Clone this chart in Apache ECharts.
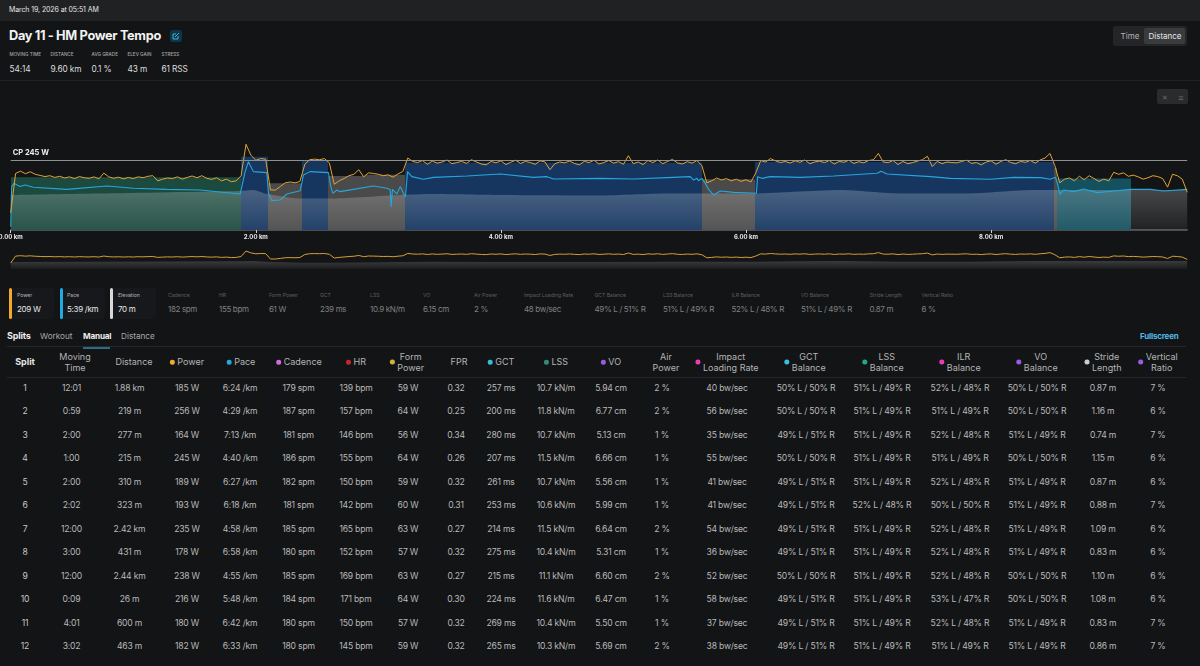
<!DOCTYPE html>
<html><head><meta charset="utf-8"><title>Day 11 - HM Power Tempo</title>
<script src="https://cdn.jsdelivr.net/npm/echarts@6/dist/echarts.min.js"></script>
<style>
html,body{margin:0;padding:0;background:#131416;width:1200px;height:666px;overflow:hidden;font-family:Inter,"Noto Sans",sans-serif;color:#c9c9c9}
#chart{position:absolute;left:0;top:0;width:1200px;height:280px}
.a{position:absolute;white-space:nowrap;line-height:1}
.c{transform:translate(-50%,-50%)}
.m{transform:translateY(-50%)}
.hd{position:absolute;display:flex;align-items:center;gap:3px;transform:translate(-50%,-50%);font-size:9px;line-height:10.5px;color:#b4b4b4;text-align:center;white-space:nowrap}
.dot{width:4.5px;height:4.5px;border-radius:50%;flex:none}
</style></head><body>
<div id="page"></div>
<div id="chart"></div>
<script>
// ---- chart data ----
const powerStepKm = 0.04;
const powerWatts = [
 60,198,206,197,204,195,191,187,190,184,
 188,182,186,180,187,183,181,186,179,199,
 186,181,185,179,184,180,186,183,188,190,
 172,178,182,180,186,178,184,189,183,190,
 181,177,183,172,178,169,172,190,300,262,
 244,250,248,140,140,152,165,168,165,170,
 230,246,248,246,250,235,160,172,180,190,
 195,211,186,200,198,195,190,193,185,196,
 205,252,240,236,243,230,241,234,238,245,
 232,236,240,233,246,238,231,228,240,235,
 242,229,237,244,233,240,236,230,242,238,
 211,232,238,235,241,233,228,240,236,244,
 231,236,243,234,239,230,260,232,238,229,
 243,236,245,232,240,247,235,231,239,234,
 243,225,165,172,182,175,180,172,178,170,
 176,168,200,243,238,250,242,236,240,234,
 242,237,245,232,238,241,236,243,231,240,
 237,244,233,239,235,243,246,268,238,236,
 243,229,240,232,236,241,246,258,222,240,
 232,238,236,235,240,244,233,236,228,238,
 242,230,240,246,236,232,240,237,243,234,
 245,252,268,225,165,178,182,172,188,176,
 190,180,170,178,172,202,195,200,188,192,
 186,178,183,190,187,180,150,195,190,178,132];
const paceKm = [0,.008,.027,.076,.117,.185,.457,.784,1,1.273,1.545,1.872,1.886,1.913,1.94,1.98,2.09,2.103,2.13,2.198,2.253,2.362,2.389,2.443,2.593,2.612,2.629,2.661,2.688,2.797,2.96,3.069,3.096,3.104,3.115,3.151,3.178,3.205,3.221,3.238,3.273,3.368,3.45,3.722,3.994,4.266,4.376,4.43,4.81,5.083,5.355,5.545,5.572,5.6,5.613,5.64,5.668,5.695,5.736,5.79,5.899,6.085,6.095,6.13,6.198,6.443,6.715,7.07,7.102,7.151,7.505,7.668,7.994,8.185,8.403,8.484,8.525,8.544,8.56,8.593,8.675,8.756,8.865,9.001,9.137,9.3,9.409,9.6];
const paceSecPerKm = [676,390,367,390,378,395,410,386,402,410,414,443,390,283,212,283,290,438,490,486,443,419,307,283,290,390,438,414,426,410,386,402,410,533,410,443,390,438,462,283,319,338,324,314,300,324,319,336,331,336,326,319,343,331,348,331,367,410,450,421,431,438,319,331,319,324,314,295,281,300,319,331,338,324,326,338,324,378,443,414,426,407,433,421,410,410,421,410];
const elevKm = [0,.729,1.872,1.98,2.09,2.362,2.634,3.178,3.45,3.994,4.81,5.355,6.07,6.443,6.77,7.26,7.8,8.35,9.6];
const elevMeters = [70,73,78,80,72,63,63,70,72,70,69,73,73,77,80,73,73,80,80];
const splitEndKm = [1.88,2.10,2.376,2.591,2.90,3.22,5.64,6.07,8.51,8.54,9.14,9.60];
const splitPower = [185,256,164,245,189,193,235,178,238,216,180,182];
const splitZone = ['green','blue','gray','blue','gray','gray','blue','gray','blue','gray','teal',null];
const zoneColors = {green:'#1c4a3e',blue:'#163660',gray:'#4a4a4b',teal:'#15505f'};
const cpWatts = 245;

// ---- page text ----
const summaryStats = [['MOVING TIME','54:14',9.5],['DISTANCE','9.60 km',50.5],['AVG GRADE','0.1 %',91.5],['ELEV GAIN','43 m',127.5],['STRESS','61 RSS',161.5]];
const activeCards = [['Power','209 W','#f2a92c',17,9,45],['Pace','5:39 /km','#22a9e0',67,60,45],['Elevation','70 m','#d8d8d8',118,110,46]];
const dimCards = [['Cadence','182 spm',168],['HR','155 bpm',219],['Form Power','61 W',269],['GCT','239 ms',320],['LSS','10.9 kN/m',370],['VO','6.15 cm',423],['Air Power','2 %',474],['Impact Loading Rate','48 bw/sec',524],['GCT Balance','49% L / 51% R',594.5],['LSS Balance','51% L / 49% R',663],['ILR Balance','52% L / 48% R',731.5],['VO Balance','51% L / 49% R',801],['Stride Length','0.87 m',869.5],['Vertical Ratio','6 %',921.5]];
const headerCols = [['Split',25,null],['Moving<br>Time',75,null],['Distance',134,null],['Power',187,'#f2a92c'],['Pace',241,'#22a9e0'],['Cadence',299,'#d96bdd'],['HR',356,'#c5262f'],['Form<br>Power',407,'#d4b23a'],['FPR',459,null],['GCT',501,'#35bfd8'],['LSS',556,'#2d8c7a'],['VO',611,'#9b5be0'],['Air<br>Power',666,null],['Impact<br>Loading Rate',727,'#e83db0'],['GCT<br>Balance',805,'#35bfd8'],['LSS<br>Balance',883,'#1fa88a'],['ILR<br>Balance',960,'#e83db0'],['VO<br>Balance',1037,'#9b5be0'],['Stride<br>Length',1103,'#cccccc'],['Vertical<br>Ratio',1158,'#9b5be0']];
const rowCenters = [25,71.5,129.5,187,240,298.5,356,408,456,501,556,611,662,727,806,882,960,1037,1103,1158];
const tableRows = [
 ['1','12:01','1.88 km','185 W','6:24 /km','179 spm','139 bpm','59 W','0.32','257 ms','10.7 kN/m','5.94 cm','2 %','40 bw/sec','50% L / 50% R','51% L / 49% R','52% L / 48% R','50% L / 50% R','0.87 m','7 %'],
 ['2','0:59','219 m','256 W','4:29 /km','187 spm','157 bpm','64 W','0.25','200 ms','11.8 kN/m','6.77 cm','2 %','56 bw/sec','50% L / 50% R','51% L / 49% R','51% L / 49% R','50% L / 50% R','1.16 m','6 %'],
 ['3','2:00','277 m','164 W','7:13 /km','181 spm','146 bpm','56 W','0.34','280 ms','10.7 kN/m','5.13 cm','1 %','35 bw/sec','49% L / 51% R','51% L / 49% R','52% L / 48% R','51% L / 49% R','0.74 m','7 %'],
 ['4','1:00','215 m','245 W','4:40 /km','186 spm','155 bpm','64 W','0.26','207 ms','11.5 kN/m','6.66 cm','1 %','55 bw/sec','50% L / 50% R','51% L / 49% R','51% L / 49% R','50% L / 50% R','1.15 m','6 %'],
 ['5','2:00','310 m','189 W','6:27 /km','182 spm','150 bpm','59 W','0.32','261 ms','10.7 kN/m','5.56 cm','1 %','41 bw/sec','49% L / 51% R','51% L / 49% R','52% L / 48% R','51% L / 49% R','0.87 m','6 %'],
 ['6','2:02','323 m','193 W','6:18 /km','181 spm','142 bpm','60 W','0.31','253 ms','10.6 kN/m','5.99 cm','1 %','41 bw/sec','49% L / 51% R','52% L / 48% R','50% L / 50% R','51% L / 49% R','0.88 m','7 %'],
 ['7','12:00','2.42 km','235 W','4:58 /km','185 spm','165 bpm','63 W','0.27','214 ms','11.5 kN/m','6.64 cm','2 %','54 bw/sec','49% L / 51% R','51% L / 49% R','52% L / 48% R','51% L / 49% R','1.09 m','6 %'],
 ['8','3:00','431 m','178 W','6:58 /km','180 spm','152 bpm','57 W','0.32','275 ms','10.4 kN/m','5.31 cm','1 %','36 bw/sec','49% L / 51% R','51% L / 49% R','52% L / 48% R','51% L / 49% R','0.83 m','6 %'],
 ['9','12:00','2.44 km','238 W','4:55 /km','185 spm','169 bpm','63 W','0.27','215 ms','11.1 kN/m','6.60 cm','2 %','52 bw/sec','50% L / 50% R','51% L / 49% R','52% L / 48% R','50% L / 50% R','1.10 m','6 %'],
 ['10','0:09','26 m','216 W','5:48 /km','184 spm','171 bpm','64 W','0.30','224 ms','11.6 kN/m','6.47 cm','1 %','58 bw/sec','49% L / 51% R','51% L / 49% R','53% L / 47% R','50% L / 50% R','1.08 m','6 %'],
 ['11','4:01','600 m','180 W','6:42 /km','180 spm','150 bpm','57 W','0.32','269 ms','10.4 kN/m','5.50 cm','1 %','37 bw/sec','49% L / 51% R','51% L / 49% R','52% L / 48% R','51% L / 49% R','0.83 m','7 %'],
 ['12','3:02','463 m','182 W','6:33 /km','180 spm','145 bpm','59 W','0.32','265 ms','10.3 kN/m','5.69 cm','2 %','38 bw/sec','49% L / 51% R','51% L / 49% R','51% L / 49% R','51% L / 49% R','0.86 m','7 %']];

// ---- DOM page ----
let h = '';
const box = (x,y,w,ht,bg,extra='') => `<div style="position:absolute;left:${x}px;top:${y}px;width:${w}px;height:${ht}px;background:${bg};${extra}"></div>`;
const txt = (x,y,s,size,col,extra='',cls='a m') => `<div class="${cls}" style="left:${x}px;top:${y}px;font-size:${size}px;color:${col};${extra}">${s}</div>`;
h += box(0,0,1200,21,'#1f2123');
h += txt(9,8.5,'March 19, 2026 at 05:51 AM',7,'#e6e6e6','letter-spacing:-.1px');
h += txt(9,35.5,'Day 11 - HM Power Tempo',12.8,'#f2f2f2','font-weight:700;letter-spacing:-.35px');
h += box(170,30,12,12,'#0f3547','border-radius:2px');
h += `<svg style="position:absolute;left:172px;top:32px" width="8" height="8" viewBox="0 0 8 8"><path d="M1 2h3M1 2v5h5V4M3 5l4-4" stroke="#3fb2e0" fill="none" stroke-width="1"/></svg>`;
for (const [l,v,x] of summaryStats){ h += txt(x,55,l,4.6,'#a8a8a8','font-weight:500'); h += txt(x,68.5,v,8.3,'#dedede','letter-spacing:-.1px'); }
h += box(0,80,1200,1,'#1f2123');
h += box(1113,26,74,20,'#242527','border-radius:3px');
h += box(1144,28,41,16,'#3a3b3d','border-radius:2px');
h += txt(1130,36,'Time',8,'#b5b5b5','','a c');
h += txt(1165,36,'Distance',8,'#e6e6e6','','a c');
h += box(1157,89,31,15,'#2a2b2d','border-radius:2px');
h += txt(1165,96.5,'✕',7,'#6a6a6a','','a c');
h += txt(1181,96.5,'≡',9,'#6a6a6a','','a c');
for (const [l,v,col,tx,cx,w] of activeCards){
  h += box(cx,288,w,31,'#17181b','border-radius:3px');
  h += box(cx,288,3,31,col,'border-radius:2px');
  h += txt(tx,296,l,5.2,'#b5b5b5','letter-spacing:-.05px'); h += txt(tx,309,v,8,'#e8e8e8','letter-spacing:-.3px');
}
for (const [l,v,x] of dimCards){ h += txt(x,296,l,5.2,'#5d5e60','letter-spacing:-.05px'); h += txt(x,309,v,8,'#808183','letter-spacing:-.35px'); }
h += txt(7,335,'Splits',9,'#ececec','font-weight:700;letter-spacing:-.2px');
h += txt(40,336,'Workout',8.2,'#a8a8a8');
h += txt(83,336,'Manual',8.2,'#ececec','font-weight:700;letter-spacing:-.2px');
h += txt(121,336,'Distance',8.2,'#a8a8a8');
h += txt(1140,335.5,'Fullscreen',8,'#54b9ea','font-weight:700;letter-spacing:-.2px');
h += box(7,346,1179,1,'#25272a');
h += box(83,347,27,1.5,'#2a6c84');
h += box(7,377,1179,1,'#25272a');
headerCols.forEach(([t,x,col],i)=>{
  h += `<div class="hd" style="left:${x}px;top:362px;${i===0?'color:#e6e6e6;font-weight:700':''}">${col?`<span class="dot" style="background:${col}"></span>`:''}<span>${t}</span></div>`;
});
tableRows.forEach((r,ri)=>{
  const y = 388 + ri*23.45;
  r.forEach((v,ci)=>{ h += txt(rowCenters[ci],y,v,8.6,ci===0?'#c6c6c6':'#b9b9b9','letter-spacing:-.2px','a c'); });
});
document.getElementById('page').innerHTML = h;

// ---- chart ----
const powerPairs = powerWatts.map((w,i)=>[+(Math.min(i*powerStepKm,9.6)).toFixed(2),w]);
const pacePairs = paceKm.map((k,i)=>[k,paceSecPerKm[i]]);
const elevPairs = elevKm.map((k,i)=>[k,elevMeters[i]]);
const zoneData = splitEndKm.map((e,i)=>[i?splitEndKm[i-1]:0,e,splitPower[i],splitZone[i]]).filter(d=>d[3]);
const xBase = {type:'value',min:0,max:9.6,interval:2};
const hiddenY = (idx,min,max,extra={}) => ({type:'value',gridIndex:idx,min,max,show:false,...extra});
const chart = echarts.init(document.getElementById('chart'),null,{renderer:'canvas'});
chart.setOption({
  animation:false,backgroundColor:'transparent',
  grid:[{left:10.7,top:90,width:1176.5,height:140,outerBoundsMode:'none'},{left:10.7,top:241,width:1176.5,height:28,outerBoundsMode:'none'}],
  xAxis:[
   {...xBase,gridIndex:0,splitLine:{show:false},
    axisLine:{lineStyle:{color:'#5f6062',width:1.6}},
    axisTick:{lineStyle:{color:'#cfcfcf',width:1},length:3},
    axisLabel:{color:'#e8e8e8',fontSize:6,fontWeight:'bold',margin:4,showMaxLabel:false,
      fontFamily:'Inter',formatter:v=>v.toFixed(2)+' km'}},
   {...xBase,gridIndex:1,show:false}],
  yAxis:[
   hiddenY(0,0,490),
   hiddenY(0,-300,700,{inverse:true}),
   hiddenY(0,0,280),
   hiddenY(1,-60,500),
   hiddenY(1,0,280)],
  series:[
   {type:'custom',name:'Splits',xAxisIndex:0,yAxisIndex:0,z:1,data:zoneData,clip:true,
    encode:{x:[0,1],y:2},
    renderItem:(p,api)=>{
      const a=api.coord([api.value(0),api.value(2)]), b=api.coord([api.value(1),0]);
      return {type:'rect',shape:{x:Math.round(a[0]),y:a[1],width:Math.round(b[0])-Math.round(a[0]),height:b[1]-a[1]},
        style:{fill:zoneColors[zoneData[p.dataIndex][3]]}};
    }},
   {type:'line',name:'Elevation',xAxisIndex:0,yAxisIndex:2,z:2,data:elevPairs,symbol:'none',smooth:0.2,
    lineStyle:{width:0},
    areaStyle:{color:new echarts.graphic.LinearGradient(0,0,0,1,[{offset:0,color:'rgba(255,255,255,.22)'},{offset:1,color:'rgba(255,255,255,.06)'}]),opacity:1}},
   {type:'line',name:'Pace',xAxisIndex:0,yAxisIndex:1,z:3,data:pacePairs,symbol:'none',
    lineStyle:{color:'#27a6da',width:1.1}},
   {type:'line',name:'Power',xAxisIndex:0,yAxisIndex:0,z:4,data:powerPairs,symbol:'none',
    lineStyle:{color:'#e0a438',width:1},
    markLine:{silent:true,symbol:'none',precision:0,
      lineStyle:{color:'#8f9092',width:1,type:'solid'},
      label:{position:'insideStartTop',formatter:'CP '+cpWatts+' W',color:'#f0f0f0',fontSize:7.5,fontWeight:'bold',fontFamily:'Inter',distance:[2,3]},
      data:[{yAxis:cpWatts}]}},
   {type:'line',name:'Overview elevation',xAxisIndex:1,yAxisIndex:4,z:1,data:elevPairs,symbol:'none',
    lineStyle:{width:0},
    areaStyle:{color:new echarts.graphic.LinearGradient(0,0,0,1,[{offset:0,color:'rgba(255,255,255,.17)'},{offset:1,color:'rgba(255,255,255,.03)'}]),opacity:1}},
   {type:'line',name:'Overview power',xAxisIndex:1,yAxisIndex:3,z:3,data:powerPairs,symbol:'none',
    lineStyle:{color:'#d99e35',width:1}}
  ]
});
</script>
</body></html>
